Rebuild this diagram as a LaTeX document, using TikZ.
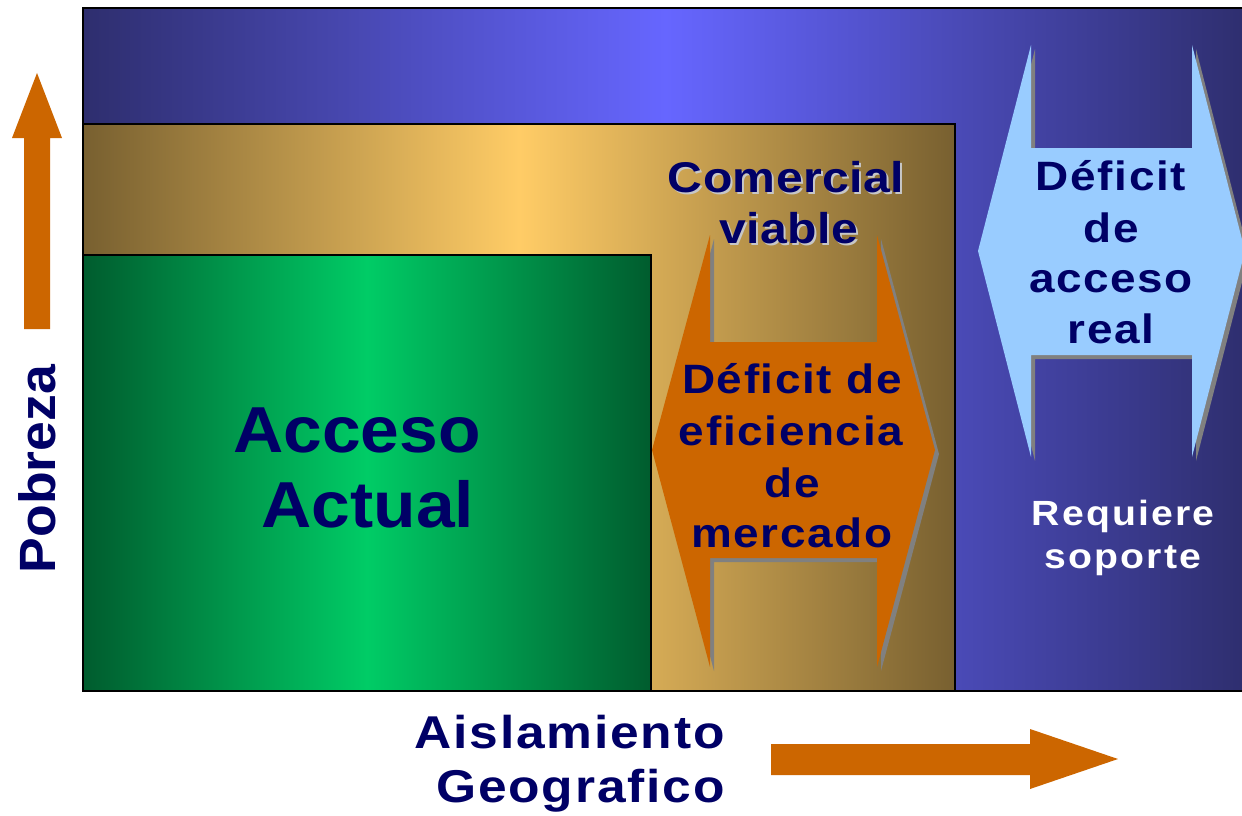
\documentclass[tikz,border=0pt]{standalone}
\usepackage{fontspec}
\setmainfont{Liberation Sans}
\newfontfamily\fA{Liberation Sans}[FakeStretch=1.12, LetterSpace=4]
\newfontfamily\fB{Liberation Sans}[FakeStretch=1.12, LetterSpace=1]
\newfontfamily\fC{Liberation Sans}[FakeStretch=1.07]
\newfontfamily\fD{Liberation Sans}[FakeStretch=1.12, LetterSpace=6]
\newfontfamily\fE{Liberation Sans}[FakeStretch=1.05]
\definecolor{navy}{HTML}{000066}
\definecolor{arrOrange}{HTML}{CC6600}
\definecolor{lightBlue}{HTML}{99CCFF}
\definecolor{blueDark}{HTML}{2E2E6E}
\definecolor{blueMid}{HTML}{6666FF}
\definecolor{goldDark}{HTML}{786030}
\definecolor{goldMid}{HTML}{FFCC66}
\definecolor{greenDark}{HTML}{005C2E}
\definecolor{greenMid}{HTML}{00CC66}
\definecolor{shadowGray}{HTML}{808080}
\tikzset{
  panel/.style={draw=black, line width=1.5pt},
  txt/.style={inner sep=0pt, anchor=base, text=navy},
  shadowtxt/.style={inner sep=0pt, anchor=base, text=black!22},
}
\begin{document}
\begin{tikzpicture}[x=1pt,y=-1pt]
\useasboundingbox (0,0) rectangle (1242,816);
\fill[white] (0,0) rectangle (1242,816);
% panels
\path[panel, left color=blueDark, right color=blueDark, middle color=blueMid] (83,8) rectangle (1248,691);
\path[panel, left color=goldDark, right color=goldDark, middle color=goldMid] (83,124) rectangle (955,691);
\path[panel, left color=greenDark, right color=greenDark, middle color=greenMid] (83,255) rectangle (651,691);
% orange double arrow with shadow
\fill[shadowGray, shift={(4,4)}] (652,450) -- (710,235) -- (710,342) -- (877,342) -- (877,235) -- (935,450) -- (877,667) -- (877,558) -- (710,558) -- (710,667) -- cycle;
\fill[arrOrange] (652,450) -- (710,235) -- (710,342) -- (877,342) -- (877,235) -- (935,450) -- (877,667) -- (877,558) -- (710,558) -- (710,667) -- cycle;
% blue double arrow with shadow
\fill[shadowGray, shift={(4,4)}] (978,251) -- (1031,45) -- (1031,148) -- (1192,148) -- (1192,45) -- (1245,251) -- (1192,457) -- (1192,355) -- (1031,355) -- (1031,457) -- cycle;
\fill[lightBlue] (978,251) -- (1031,45) -- (1031,148) -- (1192,148) -- (1192,45) -- (1245,251) -- (1192,457) -- (1192,355) -- (1031,355) -- (1031,457) -- cycle;
% axis arrows
\fill[arrOrange] (37,73) -- (62,138) -- (50,138) -- (50,329) -- (24,329) -- (24,138) -- (12,138) -- cycle;
\fill[arrOrange] (1118,759) -- (1030,789) -- (1030,775) -- (771,775) -- (771,744) -- (1030,744) -- (1030,729) -- cycle;
% texts
\begin{scope}[font=\fB\bfseries\fontsize{43}{51}\selectfont]
\node[shadowtxt] (com0) at (788,194) {Comercial};
\node[shadowtxt] (via0) at (791,245) {viable};
\node[txt] (com) at (786,192) {Comercial};
\node[txt] (via) at (789,243) {viable};
\end{scope}
\begin{scope}[font=\fA\bfseries\fontsize{41}{51}\selectfont]
\node[txt] (d1) at (792,393) {Déficit de};
\node[txt] (d2) at (791,445) {eficiencia};
\node[txt] (d3) at (792,497) {de};
\node[txt] (d4) at (792,547) {mercado};
\node[txt] (b1) at (1111,190) {Déficit};
\node[txt] (b2) at (1111,242) {de};
\node[txt] (b3) at (1111,292) {acceso};
\node[txt] (b4) at (1111,343) {real};
\end{scope}
\begin{scope}[font=\fD\bfseries\fontsize{35}{43}\selectfont]
\node[txt, text=white] (r1) at (1123,525) {Requiere};
\node[txt, text=white] (r2) at (1123,568) {soporte};
\end{scope}
\begin{scope}[font=\fC\bfseries\fontsize{65}{75}\selectfont]
\node[txt] (a1) at (357,452) {Acceso};
\node[txt] (a2) at (368,527) {Actual};
\end{scope}
\begin{scope}[font=\fA\bfseries\fontsize{46}{54}\selectfont]
\node[txt, anchor=base east] (g1) at (725,748) {Aislamiento};
\node[txt, anchor=base east] (g2) at (725,802) {Geografico};
\end{scope}
\node[txt, rotate=90, font=\fE\bfseries\fontsize{51}{60}\selectfont] (pob) at (55,469) {Pobreza};
\end{tikzpicture}
\end{document}
